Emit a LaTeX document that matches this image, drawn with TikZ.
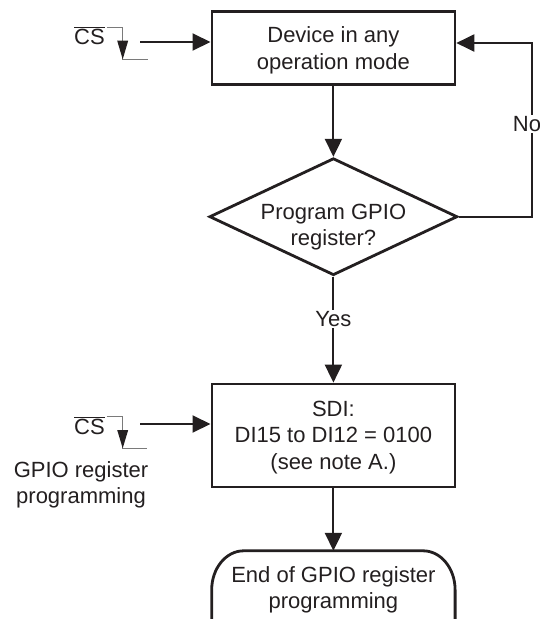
\documentclass[tikz,border=0pt]{standalone}
\usepackage{fontspec}
\setmainfont{Liberation Sans}
\usetikzlibrary{arrows.meta,shapes.geometric}
\definecolor{ink}{HTML}{231F20}
\definecolor{sig}{HTML}{7A7A7A}
\begin{document}
\begin{tikzpicture}[x=1pt,y=-1pt,
  every node/.style={font=\fontsize{22}{26.5}\selectfont, text=ink},
  box/.style={draw=ink, line width=2.8pt, minimum width=243pt, minimum height=73pt, inner sep=0pt},
  txt/.style={align=center, inner sep=0pt},
  arr/.style={draw=ink, line width=2pt, -{Triangle[length=18pt,width=17pt]}},
  sigline/.style={draw=sig, line width=1.2pt},
  lbl/.style={fill=white, inner sep=1pt}]
\useasboundingbox (0,0) rectangle (540,619);

% main flow
\node[box] (top) at (333.4,48.3) {};
\node[txt] (toptext) at (333.4,50.5) {Device in any\\operation mode};
\node[diamond, draw=ink, line width=2.8pt, minimum width=248pt, minimum height=117pt, inner sep=0pt] (dia) at (333.4,216.7) {};
\node[txt] (diatext) at (333.4,227) {Program GPIO\\register?};
\node[box, minimum height=103pt] (sdi) at (333.4,435.5) {};
\node[txt] (sditext) at (333.4,437.5) {SDI:\\DI15 to DI12 = 0100\\(see note A.)};
\node[txt, minimum width=243pt, minimum height=78pt] (term) at (333.4,590) {End of GPIO register\\programming};
\draw[draw=ink, line width=2.8pt]
  ([yshift=-100pt]term.north west) -- ([yshift=-39pt]term.north west)
  arc[start angle=180, end angle=270, x radius=32, y radius=39]
  -- ([xshift=-32pt]term.north east)
  arc[start angle=270, end angle=360, x radius=32, y radius=39]
  -- ([yshift=-100pt]term.north east);

\draw[arr] (top) -- (dia);
\draw[arr] (dia) -- node[lbl, pos=0.4] (yes) {Yes} (sdi);
\draw[arr] (sdi) -- (term.north);
\draw[arr] (dia.east) -- ++(73.3,0) |- ([yshift=5.3pt]top.east);
\node[lbl] (no) at (527,124) {No};

% CS signal (top)
\node[anchor=base] (cs1) at (89.5,44.3) {$\overline{\mbox{CS}}$};
\draw[sigline] (106.7,27.3) -- (122.7,27.3) -- (122.7,59.3) -- (148,59.3);
\fill[ink] (122.7,59.3) -- (117.2,40.7) -- (128.2,40.7) -- cycle;
\coordinate (in1) at (140,42);
\draw[arr] (in1) -- (in1 -| top.west);

% CS signal (bottom)
\node[anchor=base] (cs2) at (89.5,434.3) {$\overline{\mbox{CS}}$};
\draw[sigline] (106.7,416.7) -- (122.7,416.7) -- (122.7,448.3) -- (147,448.3);
\fill[ink] (122.7,448.3) -- (117.2,430) -- (128.2,430) -- cycle;
\coordinate (in2) at (140,424);
\draw[arr] (in2) -- (in2 -| sdi.west);
\node[txt] (gpio) at (81,485) {GPIO register\\programming};
\end{tikzpicture}
\end{document}
